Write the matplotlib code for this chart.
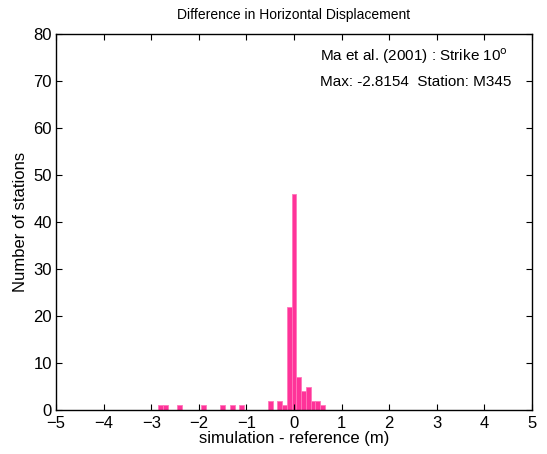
import matplotlib
matplotlib.use("Agg")
import matplotlib.pyplot as plt
import numpy as np

plt.rcParams['font.family'] = ['Liberation Sans', 'DejaVu Sans']

# histogram bin centres (m) and station counts
bin_centers = [-2.8, -2.7, -2.4, -1.9, -1.5, -1.3, -1.1,
               -0.5, -0.3, -0.2, -0.1, 0.0, 0.1, 0.2, 0.3, 0.4, 0.5, 0.6]
counts = [1, 1, 1, 1, 1, 1, 1,
          2, 2, 1, 22, 46, 7, 4, 5, 2, 2, 1]
bin_width = 0.1

x_ticks = [-5, -4, -3, -2, -1, 0, 1, 2, 3, 4, 5]
y_ticks = [0, 10, 20, 30, 40, 50, 60, 70, 80]

fig = plt.figure(figsize=(5.47, 4.54), dpi=100)
ax = fig.add_axes([0.1024, 0.0969, 0.8702, 0.8275])

ax.bar(bin_centers, counts, width=bin_width, color='#ff3399',
       edgecolor='#ff77bb', linewidth=0.6)

ax.set_xlim(-5, 5)
ax.set_ylim(0, 80)
ax.set_xticks(x_ticks)
ax.set_yticks(y_ticks)
ax.tick_params(direction='in', top=True, right=True, labelsize=12,
               length=4, width=0.8)
ax.tick_params(axis='x', pad=4)
ax.tick_params(axis='y', pad=3)
for s in ax.spines.values():
    s.set_linewidth(1.0)

ax.set_title("Difference in Horizontal Displacement", fontsize=10, pad=11)
ax.set_xlabel("simulation - reference (m)", fontsize=12, labelpad=0)
ax.set_ylabel("Number of stations", fontsize=12, labelpad=4)

ax.text(0.55, 75.3, r"Ma et al. (2001) : Strike 10$^{\mathrm{o}}$", fontsize=11,
        va='center', ha='left')
ax.text(0.55, 69.8, "Max: -2.8154  Station: M345", fontsize=11,
        va='center', ha='left')

fig.savefig("out.png", dpi=100)
